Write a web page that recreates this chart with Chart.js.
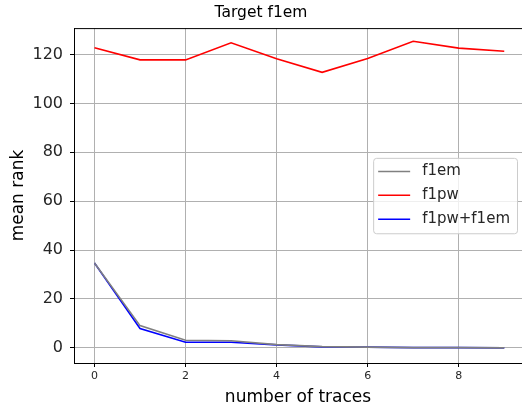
<!DOCTYPE html>
<html>
<head>
<meta charset="utf-8">
<script src="https://cdn.jsdelivr.net/npm/chart.js@4/dist/chart.umd.min.js"></script>
<style>
  html, body { margin: 0; padding: 0; background: #fff; }
  #wrap { width: 522px; height: 412px; }
</style>
</head>
<body>
<div id="wrap"><canvas id="c" width="522" height="412"></canvas></div>
<script>
// number of traces on the x axis
const traces = [0, 1, 2, 3, 4, 5, 6, 7, 8, 9];
// mean rank per attack
const f1em = [34.7, 9.1, 3.1, 2.9, 1.3, 0.5, 0.3, 0.1, 0.1, 0.0];
const f1pw = [122.8, 117.8, 117.8, 124.8, 118.3, 112.7, 118.4, 125.4, 122.6, 121.3];
const f1pwF1em = [34.7, 7.9, 2.3, 2.3, 1.2, 0.4, 0.3, 0.1, 0.1, 0.0];
// axis ticks
const xTicks = [0, 2, 4, 6, 8];
const yTicks = [0, 20, 40, 60, 80, 100, 120];

const FONT = '"DejaVu Sans", sans-serif';

const series = [
  { label: 'f1em', values: f1em, color: '#808080' },
  { label: 'f1pw', values: f1pw, color: '#ff0000' },
  { label: 'f1pw+f1em', values: f1pwF1em, color: '#0000ff' }
];

// top spine and an in-plot legend
const framePlugin = {
  id: 'frame',
  afterDraw(chart) {
    const { ctx, chartArea: a } = chart;
    ctx.save();
    ctx.strokeStyle = '#000';
    ctx.lineWidth = 1;
    ctx.beginPath();
    ctx.moveTo(a.left, a.top + 0.5);
    ctx.lineTo(a.right, a.top + 0.5);
    ctx.stroke();

    // legend box, centred on the right side
    ctx.font = '15px ' + FONT;
    const textW = Math.max(...series.map(s => ctx.measureText(s.label).width));
    const rowH = 23.8;
    const w = 5 + 32 + 12 + textW + 7;
    const h = series.length * rowH + 4;
    const x0 = a.right - 5 - w;
    const y0 = (a.top + a.bottom) / 2 - h / 2;
    ctx.fillStyle = 'rgba(255,255,255,0.8)';
    ctx.strokeStyle = '#cccccc';
    ctx.beginPath();
    ctx.roundRect(x0 + 0.5, y0 + 0.5, w, h, 3);
    ctx.fill();
    ctx.stroke();
    series.forEach((s, i) => {
      const cy = y0 + 13.7 + i * rowH;
      ctx.strokeStyle = s.color;
      ctx.lineWidth = 1.5;
      ctx.beginPath();
      ctx.moveTo(x0 + 5, cy);
      ctx.lineTo(x0 + 37, cy);
      ctx.stroke();
      ctx.fillStyle = '#262626';
      ctx.textBaseline = 'middle';
      ctx.textAlign = 'left';
      ctx.fillText(s.label, x0 + 49, cy);
    });
    ctx.restore();
  }
};

new Chart(document.getElementById('c'), {
  type: 'line',
  data: {
    datasets: series.map(s => ({
      label: s.label,
      data: traces.map((t, i) => ({ x: t, y: s.values[i] })),
      borderColor: s.color,
      backgroundColor: s.color,
      borderWidth: 1.6,
      pointRadius: 0,
      tension: 0,
      fill: false
    }))
  },
  options: {
    responsive: false,
    animation: false,
    layout: { padding: { left: 0, right: 0, top: 0, bottom: 0 } },
    plugins: {
      legend: { display: false },
      tooltip: { enabled: false },
      title: {
        display: true,
        text: 'Target f1em',
        color: '#000',
        font: { family: FONT, size: 15.5, weight: 'normal' },
        padding: { top: 4, bottom: 5.5 }
      }
    },
    scales: {
      x: {
        type: 'linear',
        min: -0.45,
        max: 9.39,
        afterBuildTicks: s => { s.ticks = xTicks.map(v => ({ value: v })); },
        afterFit: s => { s.height = 49; },
        border: { display: true, color: '#000', width: 1 },
        grid: { color: '#b0b0b0', lineWidth: 1, tickColor: '#000', tickLength: 4 },
        ticks: { color: '#262626', font: { family: FONT, size: 11 }, padding: 3, maxRotation: 0 },
        title: {
          display: true,
          text: 'number of traces',
          color: '#000',
          font: { family: FONT, size: 17 },
          padding: { top: 0, bottom: 4 }
        }
      },
      y: {
        type: 'linear',
        min: -6.2,
        max: 130.8,
        afterBuildTicks: s => { s.ticks = yTicks.map(v => ({ value: v })); },
        afterFit: s => { s.width = 74; },
        border: { display: true, color: '#000', width: 1 },
        grid: { color: '#b0b0b0', lineWidth: 1, tickColor: '#000', tickLength: 4 },
        ticks: { color: '#262626', font: { family: FONT, size: 16 }, padding: 7 },
        title: {
          display: true,
          text: 'mean rank',
          color: '#000',
          font: { family: FONT, size: 17 },
          padding: { top: 8, bottom: 0 }
        }
      }
    }
  },
  plugins: [framePlugin]
});
</script>
</body>
</html>
